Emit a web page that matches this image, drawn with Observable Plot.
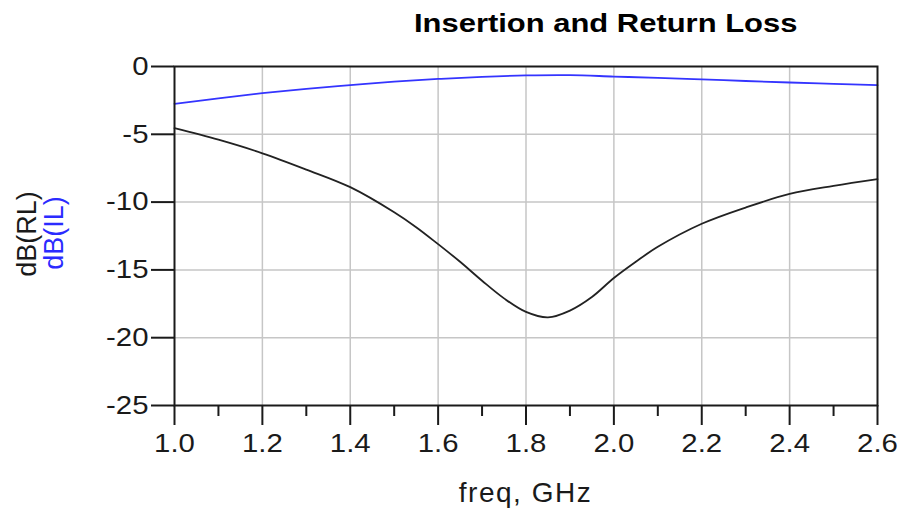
<!DOCTYPE html>
<html>
<head>
<meta charset="utf-8">
<script src="https://cdn.jsdelivr.net/npm/d3@7"></script>
<script src="https://cdn.jsdelivr.net/npm/@observablehq/plot@0.6"></script>
<style>
  html, body { margin: 0; padding: 0; background: #fff; }
  #wrap { position: relative; width: 902px; height: 514px; overflow: hidden; font-family: 'Liberation Sans', Arial, Helvetica, sans-serif; }
  #wrap svg { position: absolute; left: 0; top: 0; }
  .lbl { position: absolute; white-space: nowrap; line-height: 1; }
</style>
</head>
<body>
<div id="wrap"></div>
<script>
// Insertion loss (blue) — dB(IL)
const ilFreq = [1.0, 1.1, 1.2, 1.3, 1.4, 1.5, 1.6, 1.7, 1.8, 1.9, 2.0, 2.1, 2.2, 2.3, 2.4, 2.5, 2.6];
const ilDb   = [-2.75, -2.35, -1.97, -1.65, -1.38, -1.12, -0.92, -0.76, -0.66, -0.64, -0.74, -0.84, -0.95, -1.07, -1.18, -1.28, -1.38];

// Return loss (black) — dB(RL)
const rlFreq = [1.0, 1.1, 1.2, 1.3, 1.4, 1.5, 1.55, 1.6, 1.65, 1.7, 1.75, 1.8, 1.85, 1.9, 1.95, 2.0, 2.05, 2.1, 2.2, 2.3, 2.4, 2.5, 2.6];
const rlDb   = [-4.55, -5.4, -6.4, -7.6, -8.9, -10.75, -11.85, -13.1, -14.4, -15.8, -17.1, -18.1, -18.5, -18.0, -17.0, -15.6, -14.4, -13.3, -11.6, -10.4, -9.4, -8.8, -8.3];

// Axis ticks
const xTicks = [1.0, 1.2, 1.4, 1.6, 1.8, 2.0, 2.2, 2.4, 2.6];
const xMinor = [1.1, 1.3, 1.5, 1.7, 1.9, 2.1, 2.3, 2.5];
const yTicks = [0, -5, -10, -15, -20, -25];

const ilData = ilFreq.map((f, i) => ({freq: f, db: ilDb[i]}));
const rlData = rlFreq.map((f, i) => ({freq: f, db: rlDb[i]}));

const chart = Plot.plot({
  width: 902,
  height: 514,
  marginTop: 66,
  marginBottom: 109,
  marginLeft: 174,
  marginRight: 25,
  style: {
    fontFamily: "'Liberation Sans', Arial, Helvetica, sans-serif",
    fontSize: "26px",
    color: "#1a1a1a",
    background: "white",
    overflow: "visible"
  },
  x: {domain: [1.0, 2.6]},
  y: {domain: [-25, 0]},
  marks: [
    Plot.gridX(xTicks.slice(1, -1), {stroke: "#c6c6c6", strokeOpacity: 1, strokeWidth: 1.5}),
    Plot.gridY(yTicks.slice(1, -1), {stroke: "#c6c6c6", strokeOpacity: 1, strokeWidth: 1.5}),
    Plot.axisX(xTicks, {tickSize: 20, tickPadding: 8, fontSize: 26, tickFormat: d => d.toFixed(1), label: null, strokeWidth: 2}),
    Plot.axisX(xMinor, {tickSize: 11, text: null, label: null, strokeWidth: 2}),
    Plot.axisY(yTicks, {tickSize: 23, tickPadding: 3, fontSize: 26, tickFormat: d => String(d), label: null, strokeWidth: 2}),
    Plot.line(ilData, {x: "freq", y: "db", stroke: "#3434ff", strokeWidth: 1.8, curve: "catmull-rom"}),
    Plot.line(rlData, {x: "freq", y: "db", stroke: "#222", strokeWidth: 1.8, curve: "catmull-rom"}),
    Plot.frame({stroke: "#1a1a1a", strokeWidth: 2})
  ]
});

// widen tick-label glyphs slightly to match the reference's broader face
chart.querySelectorAll("text").forEach(t => {
  const tr = t.getAttribute("transform");
  if (tr) {
    t.setAttribute("transform", tr + " scale(1.13,1)");
  } else {
    const x = +(t.getAttribute("x") || 0), y = +(t.getAttribute("y") || 0);
    t.removeAttribute("x");
    t.removeAttribute("y");
    t.setAttribute("transform", `translate(${x},${y}) scale(1.13,1)`);
  }
});

const wrap = document.getElementById("wrap");
wrap.appendChild(chart);

function addLabel(text, css) {
  const d = document.createElement("div");
  d.className = "lbl";
  d.textContent = text;
  Object.assign(d.style, css);
  wrap.appendChild(d);
}

addLabel("Insertion and Return Loss", {
  left: "414px", top: "10px", fontSize: "26px", fontWeight: "bold", color: "#000",
  transform: "scaleX(1.19)", transformOrigin: "0 0"
});
addLabel("freq, GHz", {
  left: "0px", width: "1051px", textAlign: "center", top: "479px", fontSize: "28px", letterSpacing: "1.5px", color: "#1a1a1a"
});
addLabel("dB(RL)", {
  left: "27px", top: "234px", fontSize: "27px", color: "#1a1a1a",
  transform: "translate(-50%, -50%) rotate(-90deg)"
});
addLabel("dB(IL)", {
  left: "54px", top: "233px", fontSize: "27px", color: "#2b2bff",
  transform: "translate(-50%, -50%) rotate(-90deg)"
});
</script>
</body>
</html>
